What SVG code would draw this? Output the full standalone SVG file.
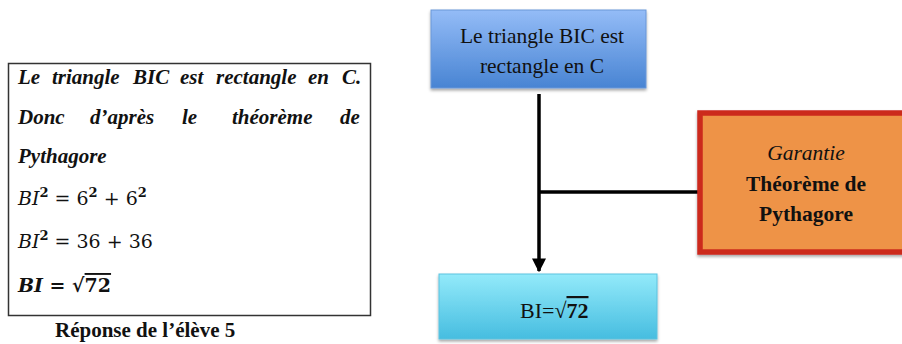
<svg xmlns="http://www.w3.org/2000/svg" width="902" height="344" viewBox="0 0 902 344">
<defs>
<linearGradient id="gBlue" x1="0" y1="0" x2="0" y2="1">
<stop offset="0" stop-color="#94bcf7"/><stop offset="1" stop-color="#4884d3"/>
</linearGradient>
<linearGradient id="gCyan" x1="0" y1="0" x2="0" y2="1">
<stop offset="0" stop-color="#93eafa"/><stop offset="1" stop-color="#46bde0"/>
</linearGradient>
<filter id="sh" x="-10%" y="-10%" width="130%" height="130%">
<feDropShadow dx="0" dy="2" stdDeviation="1.5" flood-color="#000" flood-opacity="0.35"/>
</filter>
<marker id="arr" viewBox="0 0 10 10" refX="9" refY="5" markerWidth="4" markerHeight="4" orient="auto" markerUnits="strokeWidth">
<path d="M0,0 L10,5 L0,10 z" fill="#000"/>
</marker>
<style>
.ser{font-family:"Liberation Serif","Times New Roman",serif;fill:#111}
.math{font-family:"DejaVu Serif",serif;fill:#111}
.it{font-style:italic}
.b{font-weight:bold}
.ov{text-decoration:overline}
</style>
</defs>
<rect width="902" height="344" fill="#fff"/>

<g id="answer">
<rect x="8.5" y="63.5" width="362" height="252" fill="#fff" stroke="#333" stroke-width="1.5"/>
<g class="ser it b" font-size="21">
<text x="18" y="84">Le</text>
<text x="52" y="84">triangle</text>
<text x="133" y="84">BIC</text>
<text x="180" y="84">est</text>
<text x="216" y="84">rectangle</text>
<text x="308" y="84">en</text>
<text x="342" y="84">C.</text>
<text x="18" y="124">Donc</text>
<text x="90" y="124">d’après</text>
<text x="182" y="124">le</text>
<text x="232" y="124">théorème</text>
<text x="340" y="124">de</text>
<text x="18" y="163">Pythagore</text>
</g>
<text class="math" font-size="19" x="18" y="205"><tspan class="it">BI</tspan><tspan font-size="13" dy="-8" class="b">2</tspan><tspan dy="8"> = 6</tspan><tspan font-size="13" dy="-8" class="b">2</tspan><tspan dy="8"> + 6</tspan><tspan font-size="13" dy="-8" class="b">2</tspan></text>
<text class="math" font-size="19" x="18" y="248"><tspan class="it">BI</tspan><tspan font-size="13" dy="-8" class="b">2</tspan><tspan dy="8"> = 36 + 36</tspan></text>
<text class="math b" font-size="19" x="18" y="292"><tspan class="it">BI</tspan> = √<tspan class="ov">72</tspan></text>
<text class="ser b" font-size="21" x="55" y="337">Réponse de l’élève 5</text>
</g>

<g id="connectors" stroke="#000" stroke-width="3.5" fill="none">
<line x1="539" y1="94" x2="539" y2="271" marker-end="url(#arr)"/>
<line x1="540" y1="192" x2="704" y2="192"/>
</g>

<g id="n-premise">
<rect x="431" y="10" width="215" height="78" fill="url(#gBlue)" stroke="#6a97d8" filter="url(#sh)"/>
<text class="ser" font-size="21.5" x="542" y="43" text-anchor="middle">Le triangle BIC est</text>
<text class="ser" font-size="21.5" x="542" y="73" text-anchor="middle">rectangle en C</text>
</g>

<g id="n-garantie">
<rect x="700" y="113" width="210" height="139" fill="#ee9346" stroke="#cc2a1f" stroke-width="5.5" filter="url(#sh)"/>
<text class="ser it" font-size="21.5" x="806" y="160" text-anchor="middle">Garantie</text>
<text class="ser b" font-size="21.5" x="806" y="191" text-anchor="middle">Théorème de</text>
<text class="ser b" font-size="21.5" x="806" y="221" text-anchor="middle">Pythagore</text>
</g>

<g id="n-result">
<rect x="439" y="274" width="218" height="65" fill="url(#gCyan)" stroke="#5cc3df" filter="url(#sh)"/>
<text class="ser" font-size="22" x="520" y="318">BI=√<tspan class="b ov">72</tspan></text>
</g>
</svg>
